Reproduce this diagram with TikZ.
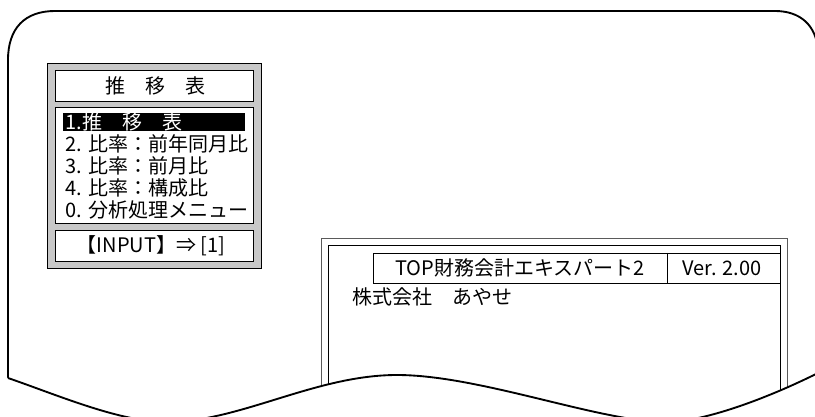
\documentclass[tikz,border=0pt]{standalone}
\usepackage{fontspec}
\usepackage{tikz}
\newfontfamily\jpfont{Noto Sans CJK JP}
\newcommand{\screenfont}{\jpfont\fontsize{15}{18}\selectfont}
\tikzset{every picture/.style={line width=0.75pt}}
\tikzset{
  whitebox/.style={draw, fill=white, line width=0.7pt},
  menuitem/.style={anchor=west, inner sep=0pt, font=\screenfont},
  screentext/.style={inner sep=0pt, font=\screenfont},
  edgeline/.style={line width=1.4pt, line join=round}
}

\begin{document}
\begin{tikzpicture}[x=0.75pt,y=0.75pt,yscale=-1,xscale=1]
		\useasboundingbox (0,0) rectangle (815,417);
		\clip (0,0) rectangle (815,417);
		
		%Shape: Outer frame (top and left edges)
		\draw [edgeline] (8,378) -- (8,60) .. controls (8,28) and (25,11) .. (55,11) -- (775,11) .. controls (800,11) and (816,25) .. (818,50) ;
		
		%Shape: Rectangle [menu panel]
		\draw  [fill={rgb, 255:red, 200; green, 200; blue, 200 }  ,fill opacity=1 ,line width=0.7pt ] (47,63) -- (261,63) -- (261,268) -- (47,268) -- cycle ;
		%Shape: Rectangle [title box]
		\draw  [whitebox] (55,70) -- (253,70) -- (253,101) -- (55,101) -- cycle ;
		%Shape: Rectangle [menu box]
		\draw  [whitebox] (55,107) -- (253,107) -- (253,223) -- (55,223) -- cycle ;
		%Shape: Rectangle [input box]
		\draw  [whitebox] (55,230) -- (253,230) -- (253,261) -- (55,261) -- cycle ;
		%Shape: Rectangle [highlight]
		\fill  (63,113) -- (245,113) -- (245,131) -- (63,131) -- cycle ;
		
		% Text Node
		\draw (155,86) node [screentext] (title) {推　移　表};
		% Text Node
		\draw (65,122) node [menuitem, text=white] (item1) {1.推　移　表};
		% Text Node
		\draw (65,144) node [menuitem] (item2) {2. 比率：前年同月比};
		% Text Node
		\draw (65,166) node [menuitem] (item3) {3. 比率：前月比};
		% Text Node
		\draw (65,188) node [menuitem] (item4) {4. 比率：構成比};
		% Text Node
		\draw (65,210) node [menuitem] (item0) {0. 分析処理メニュー};
		% Text Node
		\draw (151,246) node [screentext] (input) {【INPUT】⇒ [1]};
		
		%Shape: Window frame (outer, inner)
		\draw [line width=0.6pt, color={rgb, 255:red, 90; green, 90; blue, 90 }] (321,417) -- (321,238) -- (787,238) -- (787,417) ;
		\draw [line width=0.7pt] (328,417) -- (328,245) -- (780,245) -- (780,417) ;
		%Shape: Rectangle [product bar]
		\draw [line width=0.7pt] (373,253) -- (780,253) -- (780,283) -- (373,283) -- cycle ;
		\draw [line width=0.7pt] (667,253) -- (667,283) ;
		
		% Text Node
		\draw (520,268) node [screentext] (product) {TOP財務会計エキスパート2};
		% Text Node
		\draw (722,268) node [screentext] (version) {Ver. 2.00};
		% Text Node
		\draw (352,297) node [menuitem] (company) {株式会社　あやせ};
		
		%Shape: Torn bottom edge
		\fill [white] (8,378) .. controls (60,396) and (120,422) .. (167,422) .. controls (240,422) and (315,375) .. (397,375) .. controls (480,375) and (600,422) .. (666,422) .. controls (705,422) and (770,397) .. (818,373) -- (818,430) -- (0,430) -- (0,378) -- cycle ;
		\draw [edgeline] (8,378) .. controls (60,396) and (120,422) .. (167,422) .. controls (240,422) and (315,375) .. (397,375) .. controls (480,375) and (600,422) .. (666,422) .. controls (705,422) and (770,397) .. (818,373) ;
		
\end{tikzpicture}
\end{document}
